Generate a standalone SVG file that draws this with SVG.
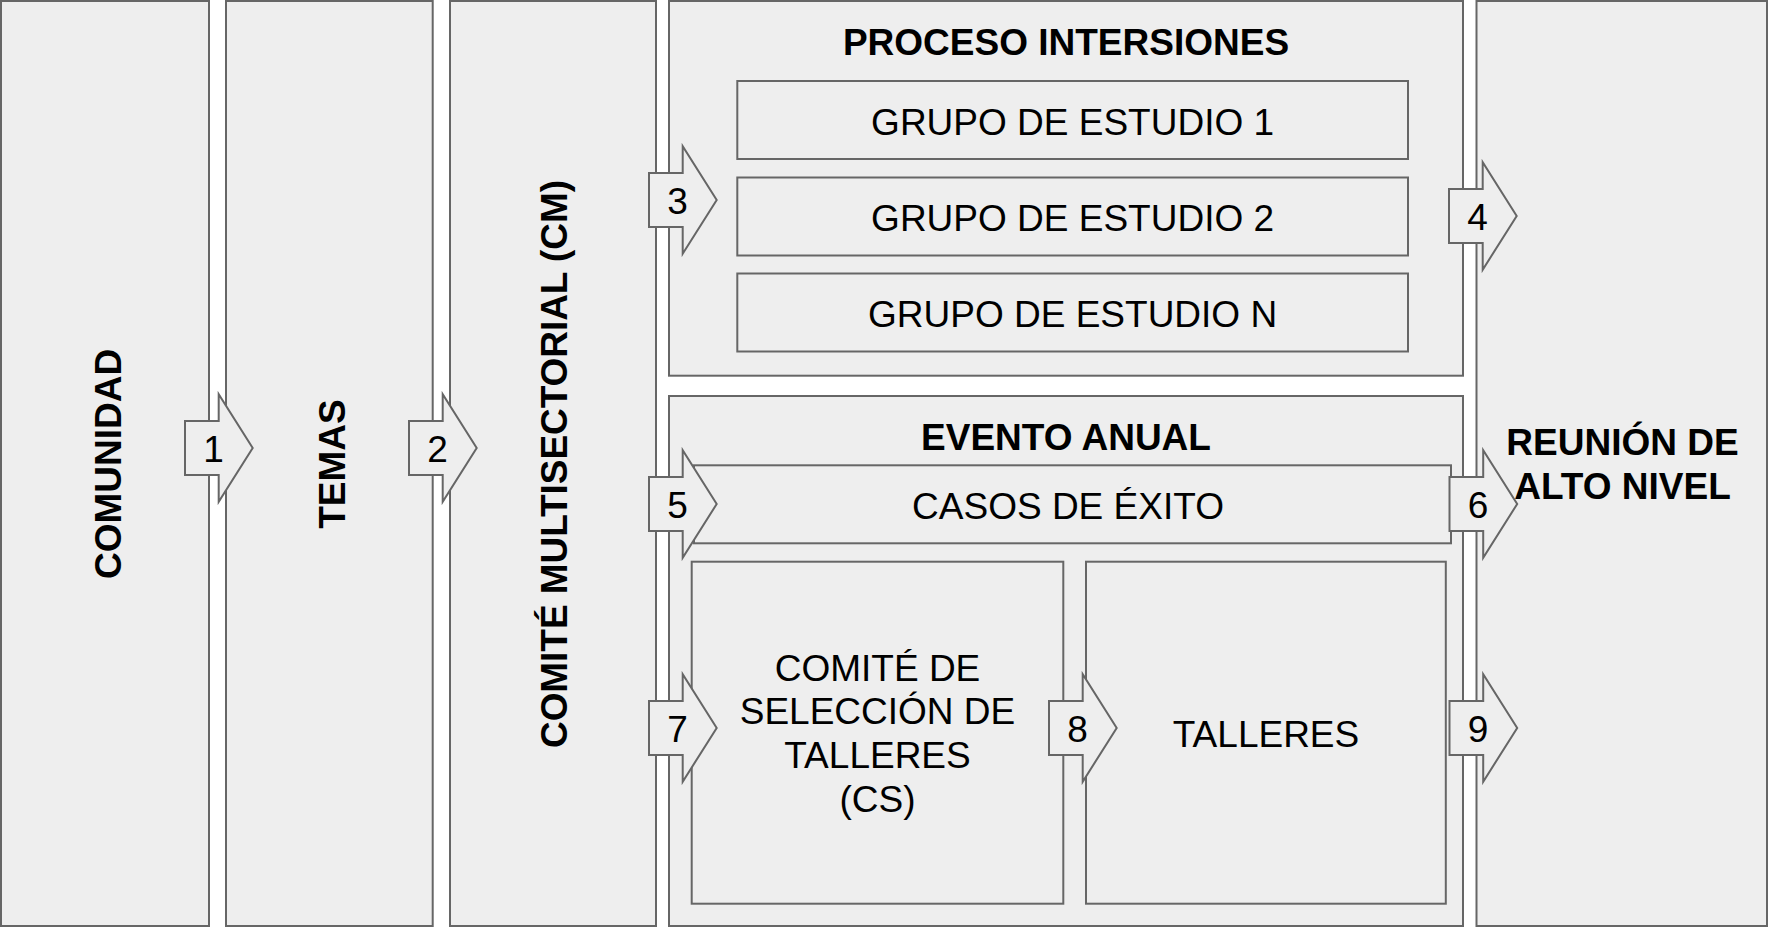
<svg xmlns="http://www.w3.org/2000/svg" xmlns:xlink="http://www.w3.org/1999/xlink" width="1770" height="927" viewBox="0 0 1770 927">
<defs>
<style>
.box{fill:#eeeeee;stroke:#666666;stroke-width:2}
.t{font-family:"Liberation Sans",Arial,sans-serif;font-size:37px;fill:#000;text-anchor:middle}
.b{font-weight:bold}
.n{font-family:"Liberation Sans",Arial,sans-serif;font-size:37px;fill:#000;text-anchor:middle}
</style>
<path id="arr" d="M0,-27 H33.7 V-53.7 L67.7,0 L33.7,53.7 V27 H0 Z" fill="#eeeeee" stroke="#666666" stroke-width="2" stroke-linejoin="miter"/>
</defs>
<rect width="1770" height="927" fill="#ffffff"/>

<g id="comunidad">
<rect class="box" x="1" y="1" width="208" height="925"/>
<text class="t b" transform="translate(120.5,464) rotate(-90)">COMUNIDAD</text>
</g>
<g id="temas">
<rect class="box" x="226" y="1" width="206.7" height="925"/>
<text class="t b" transform="translate(345,464) rotate(-90)">TEMAS</text>
</g>
<g id="comite-multisectorial">
<rect class="box" x="450" y="1" width="206" height="925"/>
<text class="t b" transform="translate(566.7,464) rotate(-90)" textLength="568" lengthAdjust="spacingAndGlyphs">COMITÉ MULTISECTORIAL (CM)</text>
</g>
<g id="proceso-intersiones">
<rect class="box" x="669" y="1" width="794" height="374.7"/>
<text class="t b" x="1066" y="55">PROCESO INTERSIONES</text>
</g>
<g id="grupo1">
<rect class="box" x="737.3" y="81" width="670.7" height="78"/>
<text class="t" x="1072.6" y="134.5">GRUPO DE ESTUDIO 1</text>
</g>
<g id="grupo2">
<rect class="box" x="737.3" y="177.5" width="670.7" height="78"/>
<text class="t" x="1072.6" y="231">GRUPO DE ESTUDIO 2</text>
</g>
<g id="grupoN">
<rect class="box" x="737.3" y="273.5" width="670.7" height="78"/>
<text class="t" x="1072.6" y="327">GRUPO DE ESTUDIO N</text>
</g>
<g id="evento-anual">
<rect class="box" x="669" y="396" width="794" height="530"/>
<text class="t b" x="1066" y="450">EVENTO ANUAL</text>
</g>
<g id="casos-exito">
<rect class="box" x="694" y="465.3" width="757" height="78"/>
<text class="t" x="1068" y="518.5">CASOS DE ÉXITO</text>
</g>
<g id="comite-seleccion">
<rect class="box" x="691.7" y="561.7" width="371.6" height="342"/>
<text class="t" x="877.5" y="680.7">COMITÉ DE</text>
<text class="t" x="877.5" y="724.3">SELECCIÓN DE</text>
<text class="t" x="877.5" y="768.3">TALLERES</text>
<text class="t" x="877.5" y="811.7">(CS)</text>
</g>
<g id="talleres">
<rect class="box" x="1086" y="561.7" width="359.8" height="342"/>
<text class="t" x="1266" y="746.7">TALLERES</text>
</g>
<g id="reunion-alto-nivel">
<rect class="box" x="1476.5" y="1" width="290.5" height="925"/>
<text class="t b" x="1622.5" y="455">REUNIÓN DE</text>
<text class="t b" x="1622.5" y="499.3">ALTO NIVEL</text>
</g>

<g id="connectors">
<g transform="translate(185,448)"><use xlink:href="#arr"/><text class="n" x="28.5" y="13.5">1</text></g>
<g transform="translate(409,448)"><use xlink:href="#arr"/><text class="n" x="28.5" y="13.5">2</text></g>
<g transform="translate(649,200)"><use xlink:href="#arr"/><text class="n" x="28.5" y="13.5">3</text></g>
<g transform="translate(1449,216)"><use xlink:href="#arr"/><text class="n" x="28.5" y="13.5">4</text></g>
<g transform="translate(649,504)"><use xlink:href="#arr"/><text class="n" x="28.5" y="13.5">5</text></g>
<g transform="translate(1449.5,504)"><use xlink:href="#arr"/><text class="n" x="28.5" y="13.5">6</text></g>
<g transform="translate(649,728)"><use xlink:href="#arr"/><text class="n" x="28.5" y="13.5">7</text></g>
<g transform="translate(1049,728)"><use xlink:href="#arr"/><text class="n" x="28.5" y="13.5">8</text></g>
<g transform="translate(1449.5,728)"><use xlink:href="#arr"/><text class="n" x="28.5" y="13.5">9</text></g>
</g>
</svg>
